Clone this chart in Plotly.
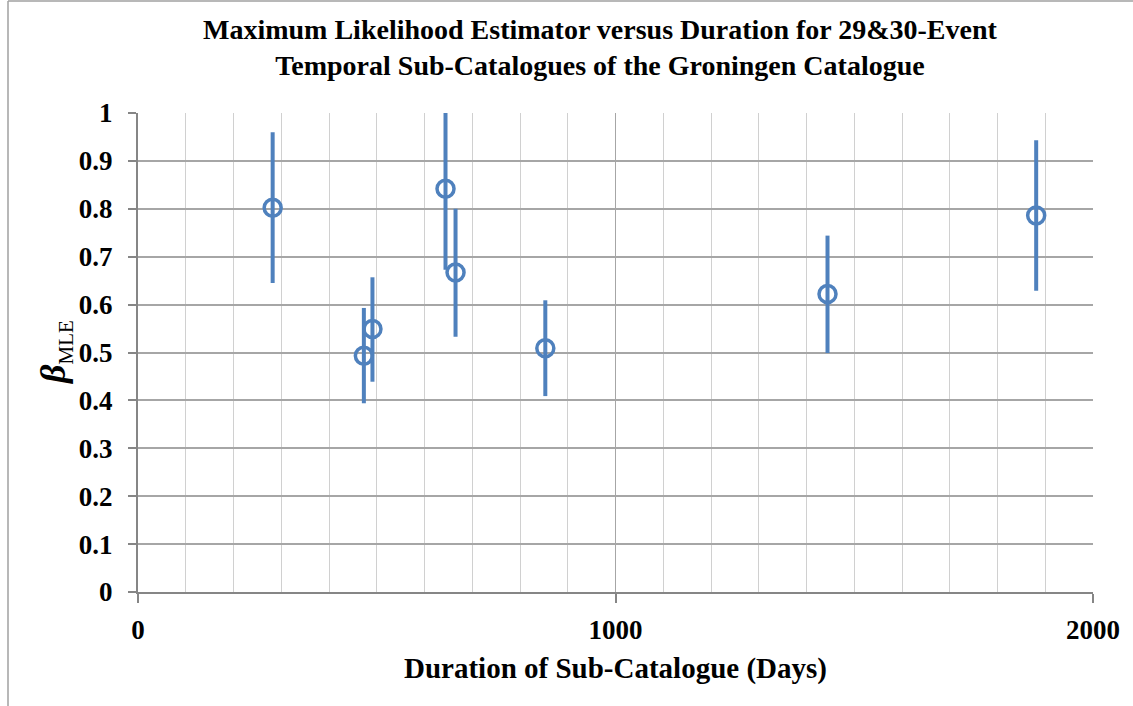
import plotly.graph_objects as go

duration_days = [282, 473, 491, 644, 665, 853, 1444, 1881]
beta_mle = [0.802, 0.493, 0.549, 0.842, 0.667, 0.509, 0.622, 0.786]
err_upper = [0.960, 0.593, 0.657, 1.000, 0.800, 0.609, 0.744, 0.943]
err_lower = [0.645, 0.394, 0.439, 0.673, 0.533, 0.409, 0.499, 0.629]

plus = [u - b for u, b in zip(err_upper, beta_mle)]
minus = [b - l for b, l in zip(beta_mle, err_lower)]

BLUE = "#4F81BD"
FONT = "Liberation Serif"

W, H = 1133, 706
L, R, T, B = 138, 40, 113, 114
pw, ph = W - L - R, H - T - B

def px_x(p):
    return (p - L) / pw

def px_y(p):
    return (H - B - p) / ph

fig = go.Figure()
fig.add_trace(go.Scatter(
    x=duration_days, y=beta_mle, mode="markers",
    marker=dict(symbol="circle-open", size=17, color=BLUE, line=dict(width=3.5, color=BLUE)),
    error_y=dict(type="data", symmetric=False, array=plus, arrayminus=minus,
                 color=BLUE, thickness=4, width=0),
    showlegend=False,
))

fig.update_layout(
    width=W, height=H,
    margin=dict(l=L, r=R, t=T, b=B),
    paper_bgcolor="white", plot_bgcolor="white",
    font=dict(family=FONT, color="black"),
    xaxis=dict(
        range=[0, 2000], dtick=1000, tick0=0,
        showgrid=True, gridcolor="#A6A6A6", gridwidth=1,
        minor=dict(dtick=100, showgrid=True, gridcolor="#D0D0D0", gridwidth=1),
        showline=True, linecolor="#868686", linewidth=2,
        ticks="outside", ticklen=9, tickcolor="#868686", tickwidth=1.5,
        tickfont=dict(size=27, family=FONT), tickprefix="<b>", ticksuffix="</b>",
        ticklabelstandoff=4,
        zeroline=False, fixedrange=True,
    ),
    yaxis=dict(
        range=[0, 1], dtick=0.1, tick0=0,
        showgrid=True, gridcolor="#A6A6A6", gridwidth=1.5,
        showline=True, linecolor="#868686", linewidth=2,
        ticks="outside", ticklen=8, tickcolor="#868686", tickwidth=1.5,
        tickfont=dict(size=27, family=FONT), tickprefix="<b>", ticksuffix="</b>",
        tickformat="~g", ticklabelstandoff=10,
        zeroline=False, fixedrange=True,
    ),
)

fig.add_annotation(
    xref="paper", yref="paper", x=px_x(600), y=px_y(48),
    text="<b>Maximum Likelihood Estimator versus Duration for 29&30-Event<br>Temporal Sub-Catalogues of the Groningen Catalogue</b>",
    showarrow=False, xanchor="center", yanchor="middle", align="center",
    font=dict(size=28, family=FONT),
)

fig.add_annotation(
    xref="paper", yref="paper", x=px_x(615), y=px_y(668),
    text="<b>Duration of Sub-Catalogue (Days)</b>",
    showarrow=False, xanchor="center", yanchor="middle",
    font=dict(size=29, family=FONT),
)

fig.add_annotation(
    xref="paper", yref="paper", x=px_x(55), y=px_y(353),
    text="<b><i>β</i></b><sub><span style='font-size:21px'>MLE</span></sub>", showarrow=False, textangle=-90,
    font=dict(size=36, family=FONT), xanchor="center", yanchor="middle",
)

fig.add_shape(type="line", xref="paper", yref="paper",
              x0=px_x(8), x1=px_x(8), y0=px_y(1), y1=px_y(706),
              line=dict(color="#A0A0A0", width=1.5))
fig.add_shape(type="line", xref="paper", yref="paper",
              x0=px_x(8), x1=px_x(1133), y0=px_y(1), y1=px_y(1),
              line=dict(color="#A0A0A0", width=1.5))

fig.write_html("out.html")
